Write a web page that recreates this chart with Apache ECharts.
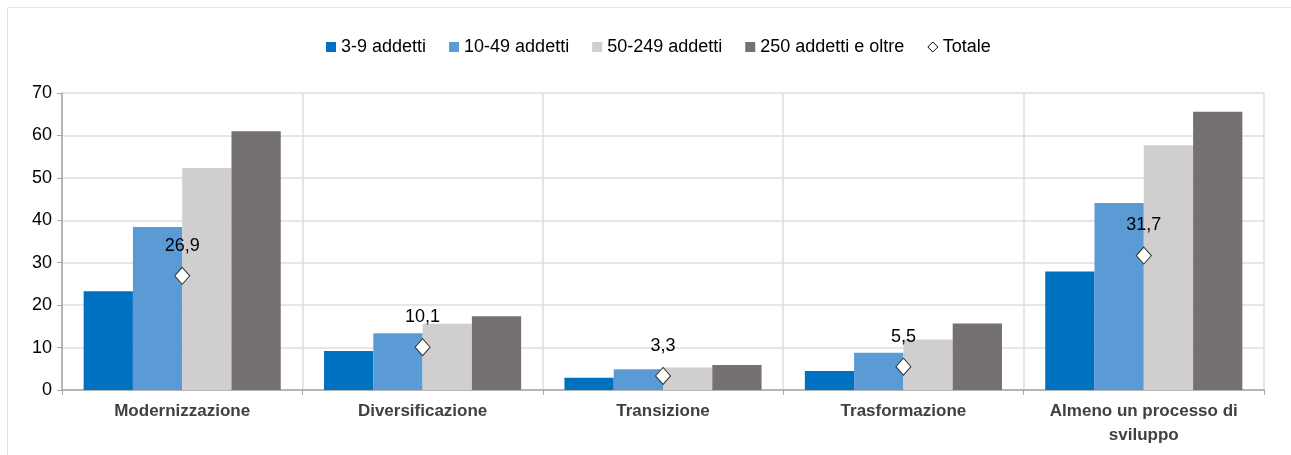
<!DOCTYPE html>
<html>
<head>
<meta charset="utf-8">
<script src="https://cdn.jsdelivr.net/npm/echarts@6/dist/echarts.min.js"></script>
<style>
html,body{margin:0;padding:0;background:#fff;}
#c{width:1291px;height:455px;}
</style>
</head>
<body>
<div id="c"></div>
<script>
const categories = ['Modernizzazione', 'Diversificazione', 'Transizione', 'Trasformazione', 'Almeno un processo di\nsviluppo'];
const s3_9 = [23.3, 9.2, 2.9, 4.5, 27.9];
const s10_49 = [38.4, 13.4, 4.9, 8.8, 44.1];
const s50_249 = [52.3, 15.6, 5.3, 11.9, 57.7];
const s250 = [61.0, 17.4, 5.9, 15.7, 65.6];
const totale = [26.9, 10.1, 3.3, 5.5, 31.7];
const yTicks = [0, 10, 20, 30, 40, 50, 60, 70];

const FONT = "'Liberation Sans Narrow', 'Arial Narrow', 'Liberation Sans', sans-serif";
const chart = echarts.init(document.getElementById('c'), null, {renderer: 'canvas'});

function bar(name, data, color) {
  return {
    name: name, type: 'bar', data: data, barGap: '0%', barCategoryGap: '18%',
    itemStyle: {color: color}, emphasis: {disabled: true}
  };
}

chart.setOption({
  animation: false,
  textStyle: {fontFamily: FONT},
  graphic: [{
    type: 'rect', shape: {x: 7.5, y: 7.5, width: 1300, height: 460},
    style: {fill: 'none', stroke: '#e3e3e3', lineWidth: 1}, z: -1
  }],
  legend: {
    top: 33, left: 321, itemWidth: 10, itemHeight: 10, itemGap: 23,
    textStyle: {fontSize: 18, color: '#000', fontFamily: FONT},
    data: [
      {name: '3-9 addetti', icon: 'rect'},
      {name: '10-49 addetti', icon: 'rect'},
      {name: '50-249 addetti', icon: 'rect'},
      {name: '250 addetti e oltre', icon: 'rect'},
      {name: 'Totale', icon: 'diamond', itemStyle: {color: '#fff', borderColor: '#000', borderWidth: 1}}
    ]
  },
  grid: {left: 62, right: 27, top: 93, bottom: 65},
  xAxis: {
    type: 'category', data: categories,
    axisLine: {lineStyle: {color: '#a6a6a6', width: 1.5}},
    axisTick: {show: true, length: 5, lineStyle: {color: '#a6a6a6'}},
    splitLine: {show: true, lineStyle: {color: '#dedede', width: 1.5}},
    axisLabel: {fontSize: 17, fontWeight: 'bold', color: '#404040', margin: 9, lineHeight: 24, fontFamily: FONT, interval: 0}
  },
  yAxis: {
    type: 'value', min: yTicks[0], max: yTicks[yTicks.length - 1], interval: 10,
    axisLine: {show: true, lineStyle: {color: '#a6a6a6', width: 1.5}},
    axisTick: {show: true, length: 5, lineStyle: {color: '#a6a6a6'}},
    splitLine: {lineStyle: {color: '#dedede', width: 1.5}},
    axisLabel: {fontSize: 18, color: '#000', margin: 10, fontFamily: FONT}
  },
  series: [
    bar('3-9 addetti', s3_9, '#0070C0'),
    bar('10-49 addetti', s10_49, '#5B9BD5'),
    bar('50-249 addetti', s50_249, '#D0CECE'),
    bar('250 addetti e oltre', s250, '#767171'),
    {
      name: 'Totale', type: 'scatter', data: totale, symbol: 'diamond', symbolSize: [15, 17], z: 5,
      itemStyle: {color: '#fff', borderColor: '#333', borderWidth: 1, opacity: 1},
      label: {
        show: true, position: 'top', distance: 12, fontSize: 18, color: '#000', fontFamily: FONT,
        formatter: p => p.value.toFixed(1).replace('.', ',')
      },
      emphasis: {disabled: true}
    }
  ]
});
</script>
</body>
</html>
